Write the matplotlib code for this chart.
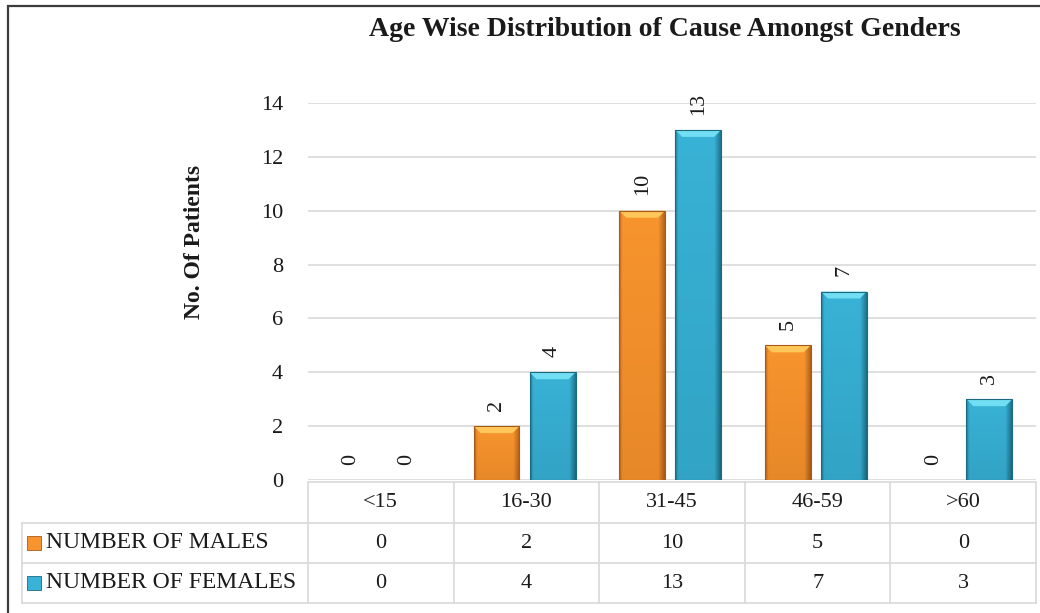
import numpy as np
import matplotlib
matplotlib.use("Agg")
import matplotlib.pyplot as plt
from matplotlib.patches import Rectangle, Polygon
from matplotlib.colors import to_rgb

categories = ["<15", "16-30", "31-45", "46-59", ">60"]
series_names = ["NUMBER OF MALES", "NUMBER OF FEMALES"]
males = [0, 2, 10, 5, 0]
females = [0, 4, 13, 7, 3]
yticks = [0, 2, 4, 6, 8, 10, 12, 14]
title = "Age Wise Distribution of Cause Amongst Genders"
ylabel = "No. Of Patients"

SERIF = ["Liberation Serif", "DejaVu Serif"]
plt.rcParams["font.family"] = SERIF

W, H = 1040, 613
fig = plt.figure(figsize=(W / 100, H / 100), dpi=100)
fig.patch.set_facecolor("white")

L, R, T, B = 308, 1036, 103, 480
ax = fig.add_axes([L / W, 1 - B / H, (R - L) / W, (B - T) / H])

styles = [
    dict(base="#F7942D", light="#FFC65A", dark="#A85A18"),
    dict(base="#38B2D6", light="#72DEF3", dark="#1B6A80"),
]
offsets = [-0.205, 0.18]
width = 0.315
x = np.arange(len(categories))

def shade(bar, st):
    x0, w, h = bar.get_x(), bar.get_width(), bar.get_height()
    if h <= 0:
        return
    base = np.array(to_rgb(st["base"]))
    dark = np.array(to_rgb(st["dark"]))
    nx, ny = 80, 120
    u = np.linspace(0, 1, nx)[None, :]
    v = np.linspace(0, 1, ny)[:, None]
    a = 0.75 * np.clip(1 - u / 0.07, 0, 1) + 0.85 * np.clip((u - 0.86) / 0.14, 0, 1)
    a = a + 0.2 * (1 - v) * np.ones_like(u)
    a = np.clip(a, 0, 1)[..., None]
    img = base * (1 - a) + dark * a
    im = ax.imshow(img, extent=(x0, x0 + w, 0, h), origin="lower",
                   aspect="auto", zorder=bar.get_zorder() + 0.1, interpolation="bilinear")
    im.set_clip_path(bar)
    dy = min(7 * 14 / (B - T), h)
    dx = 7 * 5 / (R - L)
    ax.add_patch(Polygon([(x0, h), (x0 + w, h), (x0 + w - dx, h - dy), (x0 + dx, h - dy)],
                         closed=True, facecolor=st["light"], edgecolor="none",
                         zorder=bar.get_zorder() + 0.2))
    ax.add_patch(Rectangle((x0, 0), w, h, fill=False, edgecolor=st["dark"], lw=0.8,
                           zorder=bar.get_zorder() + 0.3))

for vals, off, st in zip([males, females], offsets, styles):
    bars = ax.bar(x + off, vals, width, color=st["base"], zorder=3)
    for b, v in zip(bars, vals):
        shade(b, st)
        ax.annotate(str(v), (b.get_x() + b.get_width() / 2, b.get_height()),
                    xytext=(0, 11), textcoords="offset points", rotation=90,
                    ha="center", va="bottom", fontsize=16, color="#1a1a1a", zorder=5)

ax.set_xlim(-0.5, len(categories) - 0.5)
ax.set_ylim(0, 14)
ax.set_yticks(yticks)
ax.set_yticklabels([str(t) for t in yticks], fontsize=16)
ax.tick_params(axis="y", length=0, pad=18, colors="#1a1a1a")
ax.set_xticks([])
ax.grid(axis="y", color="#d9d9d9", lw=1.2, zorder=0)
ax.set_axisbelow(True)
for s in ax.spines.values():
    s.set_visible(False)

# data table
gc = "#d9d9d9"
def fy(py):
    return -(py - B) / (B - T)
left_col = (22 - L) / (R - L)
yh_top, y1, y2, y3 = fy(482), fy(523), fy(563), fy(603)
tr = ax.transAxes
kw = dict(transform=tr, color=gc, lw=1.2, clip_on=False, zorder=1)
ax.plot([0, 1], [yh_top, yh_top], **kw)
for yy in (y1, y2, y3):
    ax.plot([left_col, 1], [yy, yy], **kw)
ax.plot([left_col, left_col], [y1, y3], **kw)
n = len(categories)
for k in range(n + 1):
    ax.plot([k / n, k / n], [yh_top, y3], **kw)

for i, c in enumerate(categories):
    xc = (i + 0.5) / n
    ax.text(xc, (yh_top + y1) / 2, c, transform=tr, ha="center", va="center",
            fontsize=16, color="#1a1a1a", clip_on=False)
    ax.text(xc, (y1 + y2) / 2, str(males[i]), transform=tr, ha="center", va="center",
            fontsize=16, color="#1a1a1a", clip_on=False)
    ax.text(xc, (y2 + y3) / 2, str(females[i]), transform=tr, ha="center", va="center",
            fontsize=16, color="#1a1a1a", clip_on=False)

for name, (ya, yb), st in zip(series_names, [(y1, y2), (y2, y3)], styles):
    ym = (ya + yb) / 2
    kx0 = (27 - L) / (R - L)
    kw_ = 14 / (R - L)
    kh = 14 / (B - T)
    ax.add_patch(Rectangle((kx0, ym - kh / 2), kw_, kh, transform=tr, clip_on=False,
                           facecolor=st["base"], edgecolor=st["dark"], lw=0.6))
    ax.text((46 - L) / (R - L), ym, name, transform=tr, ha="left", va="center",
            fontsize=17, color="#1a1a1a", clip_on=False)

# titles
fig.text(665 / W, 1 - 30 / H, title, ha="center", va="center", fontsize=20,
         fontweight="bold", color="#1a1a1a")
fig.text(195 / W, 1 - 242 / H, ylabel, ha="center", va="center", rotation=90,
         fontsize=17, fontweight="bold", color="#1a1a1a")

# outer frame
fig.patches.append(Rectangle((8 / W, -0.1), 1.5, 1 - 6 / H + 0.1, transform=fig.transFigure,
                             fill=False, edgecolor="#3c3c3c", lw=1.6))

fig.savefig("out.png", dpi=100)
